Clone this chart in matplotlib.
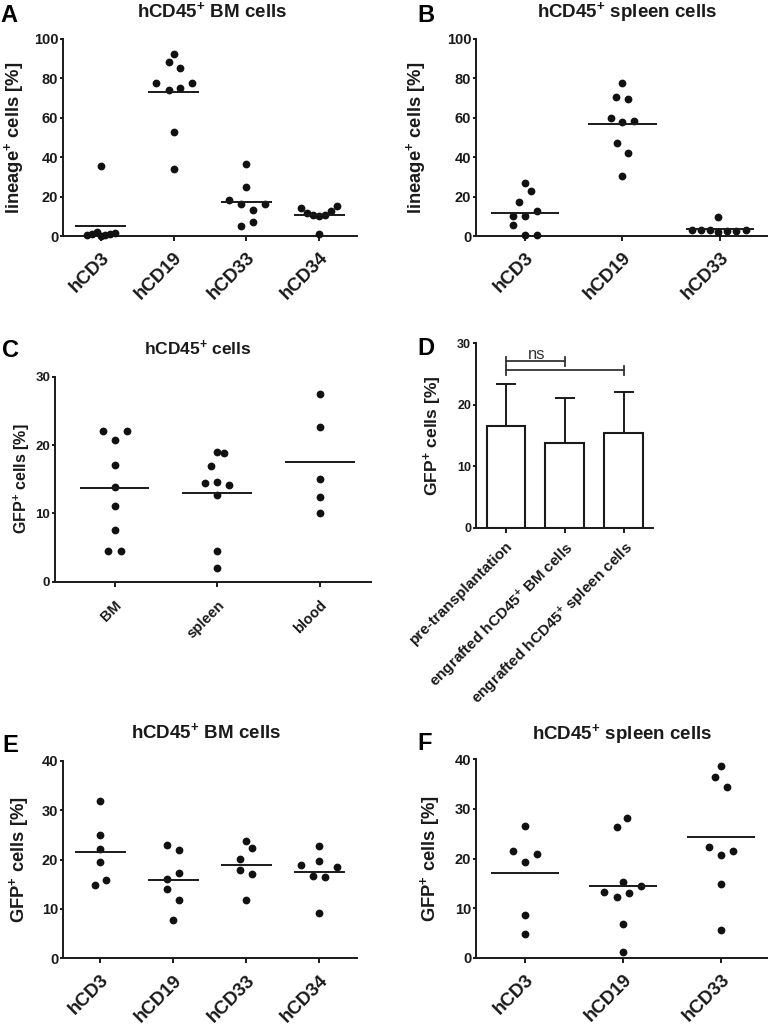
import matplotlib
matplotlib.use('Agg')
import matplotlib.pyplot as plt
import numpy as np

plt.rcParams['font.family'] = ['Liberation Sans', 'DejaVu Sans']
plt.rcParams['font.weight'] = 'bold'
plt.rcParams['mathtext.fontset'] = 'custom'
plt.rcParams['mathtext.rm'] = 'Liberation Sans:bold'
plt.rcParams['mathtext.bf'] = 'Liberation Sans:bold'
plt.rcParams['mathtext.default'] = 'rm'

# ---- data ----
# A: lineage+ in hCD45+ BM cells
cats_a = ['hCD3', 'hCD19', 'hCD33', 'hCD34']
a_vals = [
    [35.5, 0.5, 1.2, 2.2, 0.2, 0.3, 0.9, 1.7],
    [92.4, 88.1, 85.4, 77.9, 77.9, 74.2, 75.0, 52.6, 33.8],
    [18.2, 16.0, 13.1, 16.3, 36.7, 25.0, 5.1, 7.1],
    [14.4, 11.9, 10.5, 10.0, 10.5, 12.6, 15.3, 1.2],
]
a_jit = [
    [0, -0.19, -0.12, -0.05, 0.0, 0.06, 0.12, 0.2],
    [0, -0.07, 0.09, -0.24, 0.25, -0.07, 0.09, 0, 0],
    [-0.24, -0.07, 0.09, 0.25, 0, 0, -0.07, 0.09],
    [-0.25, -0.17, -0.08, 0, 0.08, 0.16, 0.25, 0],
]

# B: lineage+ in hCD45+ spleen cells
cats_b = ['hCD3', 'hCD19', 'hCD33']
b_vals = [
    [26.7, 22.9, 17.5, 12.7, 10.4, 10.0, 5.4, 0.3, 0.3],
    [77.9, 70.6, 69.3, 59.8, 57.7, 58.6, 47.0, 42.3, 30.4],
    [9.5, 2.9, 2.8, 2.9, 2.0, 2.7, 2.6, 2.8],
]
b_jit = [
    [0, 0.06, -0.06, 0.12, -0.12, 0, -0.12, 0, 0.12],
    [0, -0.07, 0.06, -0.12, 0, 0.12, -0.06, 0.06, 0],
    [-0.02, -0.29, -0.2, -0.1, -0.02, 0.07, 0.16, 0.26],
]

# C: GFP+ in hCD45+ cells
cats_c = ['BM', 'spleen', 'blood']
c_vals = [
    [22.0, 22.0, 20.7, 17.1, 13.8, 11.1, 7.5, 4.5, 4.5],
    [19.0, 18.8, 17.0, 14.5, 14.6, 14.1, 12.7, 4.5, 2.0],
    [27.4, 22.7, 15.0, 12.4, 10.1],
]
c_jit = [
    [-0.11, 0.12, 0, 0, 0, 0, 0, -0.06, 0.065],
    [0, 0.065, -0.06, -0.117, 0, 0.117, 0, 0, 0],
    [0, 0, 0, 0, 0],
]

# D: GFP+ bar chart (mean + SD)
cats_d = ['pre-transplantation', 'engrafted hCD45$^{+}$ BM cells',
          'engrafted hCD45$^{+}$ spleen cells']
d_mean = [16.5, 13.8, 15.4]
d_sd = [6.9, 7.3, 6.6]

# E: GFP+ in hCD45+ BM cells
cats_e = ['hCD3', 'hCD19', 'hCD33', 'hCD34']
e_vals = [
    [31.8, 25.0, 22.1, 19.4, 14.8, 15.9],
    [22.9, 21.9, 17.2, 16.0, 14.0, 11.8, 7.8],
    [23.7, 22.3, 20.1, 17.9, 17.1, 11.8],
    [18.9, 22.8, 19.7, 16.7, 16.5, 18.5, 9.2],
]
e_jit = [
    [0, 0, 0, 0, -0.078, 0.08],
    [-0.08, 0.08, 0.08, -0.08, -0.08, 0.08, 0],
    [0, 0.08, -0.08, -0.08, 0.08, 0],
    [-0.25, 0, 0, -0.08, 0.08, 0.247, 0],
]

# F: GFP+ in hCD45+ spleen cells
cats_f = ['hCD3', 'hCD19', 'hCD33']
f_vals = [
    [26.6, 21.6, 21.0, 19.3, 8.7, 4.8],
    [28.2, 26.4, 15.2, 14.5, 13.3, 12.3, 13.0, 6.7, 1.2],
    [38.7, 36.5, 34.5, 22.3, 20.8, 21.6, 14.9, 5.5],
]
f_jit = [
    [0, -0.12, 0.127, 0, 0, 0],
    [0.045, -0.06, 0, 0.18, -0.19, -0.06, 0.06, 0, 0],
    [0, -0.06, 0.06, -0.12, 0, 0.12, 0, 0],
]

INK = '#1a1a1a'
W, H = 771, 1024
fig = plt.figure(figsize=(W / 100, H / 100), dpi=100)


def box(l, t, r, b):
    return [l / W, 1 - b / H, (r - l) / W, (b - t) / H]


def style(ax, cats, xlim, ylim, yticks, ysize, xsize, xpad):
    ax.set_xlim(xlim)
    ax.set_ylim(ylim)
    ax.patch.set_alpha(0)
    for s in ['top', 'right']:
        ax.spines[s].set_visible(False)
    for s in ['left', 'bottom']:
        ax.spines[s].set_linewidth(1.4)
        ax.spines[s].set_color(INK)
    ax.set_yticks(yticks)
    ax.tick_params(axis='y', length=2.5, width=1.4, pad=1, labelsize=ysize, colors=INK)
    ax.tick_params(axis='x', length=3.6, width=1.4, pad=xpad, labelsize=xsize, colors=INK)
    ax.set_xticks(range(len(cats)))
    ax.set_xticklabels(cats, rotation=45, ha='right', va='top', rotation_mode='anchor')


def dots(ax, vals, jit, half=0.35):
    for i, (v, j) in enumerate(zip(vals, jit)):
        ax.plot(i + np.array(j), v, 'o', ms=5.6, color='#111111', mec='none',
                clip_on=False, zorder=3)
        ax.hlines(np.mean(v), i - half, i + half, color=INK, lw=1.4, zorder=4)


def label(ax, text, xc, size):
    ax.set_ylabel(text, fontsize=size, fontweight='bold', color=INK)
    ax.yaxis.set_label_coords(xc, 0.5)


def title(text, x, y, size):
    fig.text(x / W, 1 - y / H, text, ha='center', va='baseline',
             fontsize=size, fontweight='bold', color=INK)


def letter(text, x, y):
    fig.text(x / W, 1 - y / H, text, ha='left', va='baseline',
             fontsize=17, fontweight='bold', color='black')


# A
axA = fig.add_axes(box(63, 39, 357, 236))
dots(axA, a_vals, a_jit)
style(axA, cats_a, (-0.52, 3.52), (0, 100), range(0, 101, 20), 10.5, 13.5, 6)
label(axA, 'lineage$^{+}$ cells [%]', -0.125, 13.2)
title('hCD45$^{+}$ BM cells', 212, 17, 13.5)
letter('A', 0, 22)

# B
axB = fig.add_axes(box(476, 39, 767, 236))
dots(axB, b_vals, b_jit)
style(axB, cats_b, (-0.5, 2.48), (0, 100), range(0, 101, 20), 10.5, 13.5, 6)
label(axB, 'lineage$^{+}$ cells [%]', -0.165, 13.2)
title('hCD45$^{+}$ spleen cells', 627, 17, 13.5)
letter('B', 417, 22)

# C
axC = fig.add_axes(box(55, 376.7, 371, 581.7))
dots(axC, c_vals, c_jit, half=0.34)
style(axC, cats_c, (-0.58, 2.5), (0, 30), range(0, 31, 10), 9.5, 10.5, 8)
label(axC, 'GFP$^{+}$ cells [%]', -0.072, 11.5)
title('hCD45$^{+}$ cells', 198, 355, 12.5)
letter('C', 2, 357)

# D
axD = fig.add_axes(box(476, 343.3, 653, 527.7))
xd = np.arange(len(d_mean))
axD.bar(xd, d_mean, width=0.66, facecolor='white', edgecolor=INK, linewidth=1.5, zorder=2)
axD.errorbar(xd, d_mean, yerr=[np.zeros(len(d_sd)), d_sd], fmt='none', ecolor=INK,
             elinewidth=1.4, capsize=7.2, capthick=1.4, zorder=3)
style(axD, cats_d, (-0.51, 2.5), (0, 30), range(0, 31, 10), 9, 11, 4.5)
label(axD, 'GFP$^{+}$ cells [%]', -0.18, 12.6)
for x1, yb in [(1, 27.1), (2, 25.6)]:
    axD.plot([0, x1], [yb, yb], color='#333333', lw=1.3, clip_on=False)
    for xe in (0, x1):
        axD.plot([xe, xe], [yb - 0.75, yb + 0.75], color='#333333', lw=1.3, clip_on=False)
axD.text(0.53, 27.5, 'ns', ha='center', va='baseline', fontsize=12,
         fontweight='normal', color='#333333')
letter('D', 417, 355)

# E
axE = fig.add_axes(box(63, 760.7, 357, 958.3))
dots(axE, e_vals, e_jit)
style(axE, cats_e, (-0.51, 3.52), (0, 40), range(0, 41, 10), 10.5, 13.5, 6)
label(axE, 'GFP$^{+}$ cells [%]', -0.108, 13.2)
title('hCD45$^{+}$ BM cells', 206, 738, 13.5)
letter('E', 2, 752)

# F
axF = fig.add_axes(box(476, 759.3, 767, 957.7))
dots(axF, f_vals, f_jit)
style(axF, cats_f, (-0.5, 2.47), (0, 40), range(0, 41, 10), 10.5, 13.5, 6)
label(axF, 'GFP$^{+}$ cells [%]', -0.116, 13.2)
title('hCD45$^{+}$ spleen cells', 622, 739, 13.5)
letter('F', 417, 750)

fig.savefig('out.png', dpi=100)
